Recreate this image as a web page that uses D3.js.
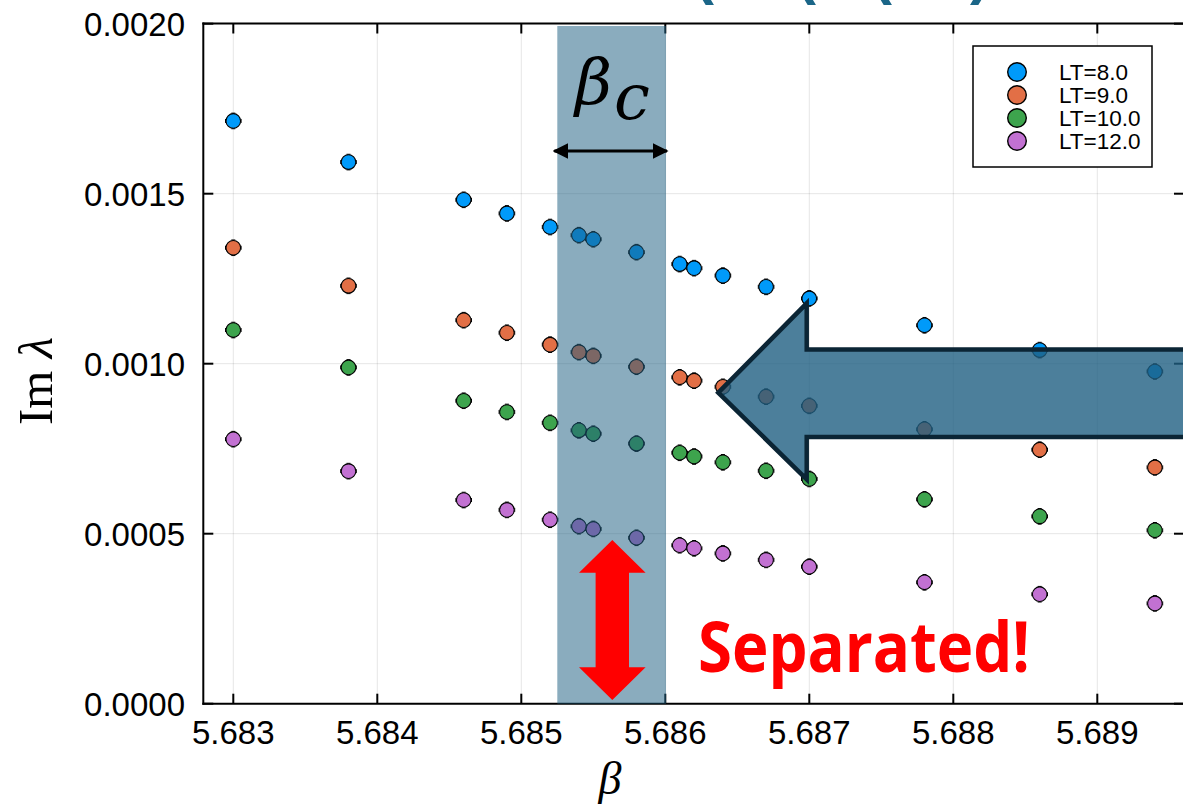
<!DOCTYPE html>
<html>
<head>
<meta charset="utf-8">
<script src="https://cdn.jsdelivr.net/npm/d3@7"></script>
<style>
  html, body { margin: 0; padding: 0; background: #fff; overflow: hidden; }
  svg { display: block; }
</style>
</head>
<body>
<svg id="chart" width="1183" height="807"></svg>
<script>
// ---- data ----
const betas = [5.6830, 5.6838, 5.6846, 5.6849, 5.6852, 5.6854, 5.6855, 5.6858,
               5.6861, 5.6862, 5.6864, 5.6867, 5.6870, 5.6878, 5.6886, 5.6894];

const seriesNames = ["LT=8.0", "LT=9.0", "LT=10.0", "LT=12.0"];
const seriesColors = ["#009AFA", "#E26F46", "#3DA44D", "#C271D2"];

const imLT8  = [0.001714, 0.001593, 0.001482, 0.001442, 0.001402, 0.001378, 0.001366, 0.001328,
                0.001293, 0.001281, 0.001259, 0.001226, 0.001192, 0.001113, 0.001040, 0.000977];
const imLT9  = [0.001341, 0.001229, 0.001128, 0.001091, 0.001056, 0.001034, 0.001023, 0.000991,
                0.000960, 0.000950, 0.000932, 0.000903, 0.000876, 0.000807, 0.000747, 0.000695];
const imLT10 = [0.001099, 0.000989, 0.000891, 0.000858, 0.000826, 0.000804, 0.000794, 0.000765,
                0.000738, 0.000727, 0.000710, 0.000685, 0.000661, 0.000601, 0.000551, 0.000510];
const imLT12 = [0.000778, 0.000684, 0.000599, 0.000570, 0.000541, 0.000522, 0.000514, 0.000488,
                0.000466, 0.000457, 0.000442, 0.000423, 0.000403, 0.000357, 0.000322, 0.000295];

const xTicks = [5.683, 5.684, 5.685, 5.686, 5.687, 5.688, 5.689];
const yTicks = [0, 0.0005, 0.0010, 0.0015, 0.0020];

// critical region of beta
const betaCRange = [5.68525, 5.686005];

// ---- layout ----
const svg = d3.select("#chart");
const frame = { left: 203.3, right: 1184, top: 23.5, bottom: 703.7 };

const x = d3.scaleLinear().domain([5.683, 5.689]).range([233.3, 1097.3]);
const y = d3.scaleLinear().domain([0, 0.002]).range([703.7, 23.7]);

const series = [imLT8, imLT9, imLT10, imLT12].map((vals, i) => ({
  name: seriesNames[i], color: seriesColors[i],
  points: vals.map((v, j) => ({ b: betas[j], v }))
}));

// heading running off the top edge
svg.append("text")
  .attr("font-family", "Liberation Sans, Arial, sans-serif")
  .attr("font-weight", "bold")
  .attr("font-size", 60)
  .attr("fill", "#1b6688")
  .attr("y", -7)
  .selectAll("tspan")
  .data([["(", 694], ["(", 796], ["(", 872], [")", 970]])
  .join("tspan")
  .attr("x", d => d[1])
  .text(d => d[0]);

// grid
const grid = svg.append("g").attr("stroke", "#000").attr("stroke-opacity", 0.1).attr("stroke-width", 1);
grid.selectAll("line.gx").data(xTicks).join("line")
  .attr("x1", d => x(d)).attr("x2", d => x(d))
  .attr("y1", frame.top).attr("y2", frame.bottom);
grid.selectAll("line.gy").data(yTicks).join("line")
  .attr("x1", frame.left).attr("x2", frame.right)
  .attr("y1", d => y(d)).attr("y2", d => y(d));

// scatter points with tiny error caps
const pts = svg.append("g");
series.forEach(s => {
  const g = pts.append("g");
  const caps = g.append("g").attr("stroke", "#000").attr("stroke-width", 1);
  s.points.forEach(p => {
    const cx = x(p.b), cy = y(p.v);
    caps.append("line").attr("x1", cx - 2).attr("x2", cx + 2).attr("y1", cy - 7.8).attr("y2", cy - 7.8);
    caps.append("line").attr("x1", cx - 2).attr("x2", cx + 2).attr("y1", cy + 7.8).attr("y2", cy + 7.8);
    caps.append("line").attr("x1", cx - 7.8).attr("x2", cx - 7.8).attr("y1", cy - 2).attr("y2", cy + 2);
    caps.append("line").attr("x1", cx + 7.8).attr("x2", cx + 7.8).attr("y1", cy - 2).attr("y2", cy + 2);
  });
  g.selectAll("circle").data(s.points).join("circle")
    .attr("cx", d => x(d.b)).attr("cy", d => y(d.v))
    .attr("r", 7.3)
    .attr("fill", s.color)
    .attr("stroke", "#000").attr("stroke-width", 1.1);
});

// frame and ticks
const axisG = svg.append("g").attr("stroke", "#000").attr("stroke-width", 2).attr("fill", "none");
axisG.append("line").attr("x1", frame.left).attr("x2", frame.left).attr("y1", frame.top - 1).attr("y2", frame.bottom + 1);
axisG.append("line").attr("x1", frame.left - 1).attr("x2", frame.right).attr("y1", frame.bottom).attr("y2", frame.bottom);
axisG.append("line").attr("x1", frame.left - 1).attr("x2", frame.right).attr("y1", frame.top).attr("y2", frame.top);
axisG.append("line").attr("x1", frame.right).attr("x2", frame.right).attr("y1", frame.top).attr("y2", frame.bottom);
xTicks.forEach(t => {
  axisG.append("line").attr("x1", x(t)).attr("x2", x(t)).attr("y1", frame.bottom).attr("y2", frame.bottom - 10);
  axisG.append("line").attr("x1", x(t)).attr("x2", x(t)).attr("y1", frame.top).attr("y2", frame.top + 10);
});
yTicks.forEach(t => {
  axisG.append("line").attr("x1", frame.left).attr("x2", frame.left + 10).attr("y1", y(t)).attr("y2", y(t));
  axisG.append("line").attr("x1", frame.right).attr("x2", frame.right - 10).attr("y1", y(t)).attr("y2", y(t));
});

// tick labels
const tickFont = "Liberation Sans, Arial, Helvetica, sans-serif";
svg.append("g").selectAll("text").data(xTicks).join("text")
  .attr("x", d => x(d)).attr("y", 744)
  .attr("text-anchor", "middle")
  .attr("font-family", tickFont).attr("font-size", 33)
  .text(d => d3.format(".3f")(d));
svg.append("g").selectAll("text").data(yTicks).join("text")
  .attr("x", 185).attr("y", d => y(d) + 12)
  .attr("text-anchor", "end")
  .attr("font-family", tickFont).attr("font-size", 33)
  .text(d => d3.format(".4f")(d));

// axis titles
svg.append("text")
  .attr("x", 610).attr("y", 794)
  .attr("text-anchor", "middle")
  .attr("font-family", "Liberation Serif, Times New Roman, serif")
  .attr("font-style", "italic").attr("font-size", 46)
  .text("β");
const yTitle = svg.append("text")
  .attr("transform", "translate(52,381) rotate(-90)")
  .attr("text-anchor", "middle")
  .attr("font-family", "Liberation Serif, Times New Roman, serif")
  .attr("font-size", 49);
yTitle.append("tspan").text("Im ");
yTitle.append("tspan").attr("font-style", "italic").text("λ");

// legend
const leg = svg.append("g");
leg.append("rect").attr("x", 973).attr("y", 46).attr("width", 179).attr("height", 121)
  .attr("fill", "#fff").attr("stroke", "#000").attr("stroke-width", 1.5);
series.forEach((s, i) => {
  const cy = 72 + i * 23;
  leg.append("circle").attr("cx", 1017).attr("cy", cy).attr("r", 9.3)
    .attr("fill", s.color).attr("stroke", "#000").attr("stroke-width", 1.4);
  leg.append("text").attr("x", 1059).attr("y", cy + 8)
    .attr("font-family", tickFont).attr("font-size", 22.5)
    .text(s.name);
});

// shaded critical band
svg.append("rect")
  .attr("x", x(betaCRange[0])).attr("y", 26)
  .attr("width", x(betaCRange[1]) - x(betaCRange[0]))
  .attr("height", frame.bottom - 26)
  .attr("fill", "rgb(31,95,130)").attr("fill-opacity", 0.52);

// beta_c label and width arrow
const bc = svg.append("text")
  .attr("x", 575).attr("y", 104)
  .attr("font-family", "DejaVu Serif, serif")
  .attr("font-style", "italic").attr("font-size", 64)
  .attr("fill", "#000");
bc.append("tspan").text("β");
bc.append("tspan").attr("dy", 15).attr("dx", 2).text("c");

const defs = svg.append("defs");
defs.append("marker").attr("id", "ah").attr("viewBox", "0 0 10 10")
  .attr("refX", 9).attr("refY", 5).attr("markerWidth", 5.2).attr("markerHeight", 5.2)
  .attr("markerUnits", "strokeWidth").attr("orient", "auto-start-reverse")
  .append("path").attr("d", "M0,0 L10,5 L0,10 Z").attr("fill", "#000");
const arrowY = y(0.0016256);
svg.append("line")
  .attr("x1", x(betaCRange[0]) - 3).attr("x2", x(betaCRange[1]) + 1)
  .attr("y1", arrowY).attr("y2", arrowY)
  .attr("stroke", "#000").attr("stroke-width", 3)
  .attr("marker-start", "url(#ah)").attr("marker-end", "url(#ah)");

// big left-pointing arrow
const tipX = x(5.686368), tipY = y(0.0009147);
const headX = x(5.686982), headTop = y(0.0011776), headBot = y(0.00066);
const shaftTop = y(0.0010418), shaftBot = y(0.0007844);
const bigArrow = [
  [tipX, tipY], [headX, headTop], [headX, shaftTop], [1260, shaftTop],
  [1260, shaftBot], [headX, shaftBot], [headX, headBot]
];
svg.append("path")
  .attr("d", d3.line()(bigArrow) + "Z")
  .attr("fill", "rgb(31,95,130)").attr("fill-opacity", 0.8)
  .attr("stroke", "#0b2535").attr("stroke-width", 4.5).attr("stroke-linejoin", "miter");

// red double arrow
const rx = x(5.685632);
const rTop = y(0.0004815), rHeadTop = y(0.0003853), rHeadBot = y(0.000107), rBot = y(0.0000109);
const redArrow = [
  [rx, rTop], [rx + 33.3, rHeadTop], [rx + 16.7, rHeadTop], [rx + 16.7, rHeadBot],
  [rx + 33.3, rHeadBot], [rx, rBot], [rx - 33.3, rHeadBot], [rx - 16.7, rHeadBot],
  [rx - 16.7, rHeadTop], [rx - 33.3, rHeadTop]
];
svg.append("path").attr("d", d3.line()(redArrow) + "Z").attr("fill", "#ff0000");

svg.append("text")
  .attr("x", 698).attr("y", 672)
  .attr("font-family", "Open Sans, Lato, sans-serif")
  .attr("font-weight", "bold").attr("font-size", 70)
  .attr("textLength", 332).attr("lengthAdjust", "spacingAndGlyphs")
  .attr("fill", "#ff0000")
  .text("Separated!");
</script>
</body>
</html>
